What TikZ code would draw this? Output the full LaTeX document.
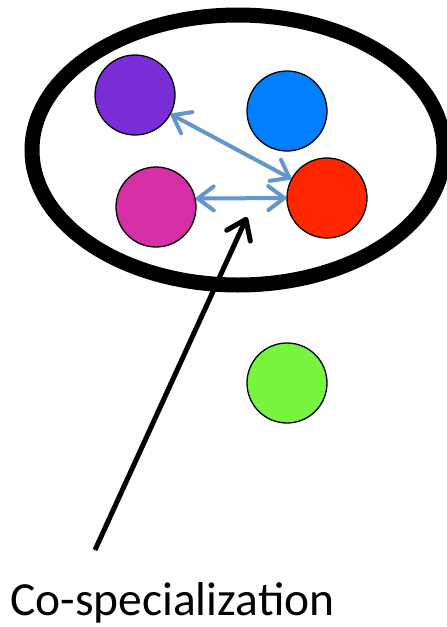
\documentclass[tikz,border=0pt]{standalone}
\usepackage{fontspec}
\setmainfont{Carlito}
\definecolor{cPurple}{HTML}{7A2CD6}
\definecolor{cBlue}{HTML}{0080FF}
\definecolor{cMagenta}{HTML}{D62FA6}
\definecolor{cRed}{HTML}{FF2600}
\definecolor{cGreen}{HTML}{76F43E}
\definecolor{linkBlue}{HTML}{6296CC}
\usetikzlibrary{arrows.meta,shapes.geometric}

\begin{document}
\begin{tikzpicture}[x=1pt, y=-1pt,
  ball/.style={circle, draw=black, line width=1.3pt, minimum size=80pt, inner sep=0pt},
  group/.style={ellipse, draw=black, line width=15pt, minimum width=412pt,
                minimum height=270pt, inner sep=0pt},
  link/.style={{Straight Barb[length=16pt,width=24pt,round]}-{Straight Barb[length=16pt,width=24pt,round]},
               linkBlue, line width=4pt},
  pointer/.style={-{Straight Barb[length=18pt,width=26pt,round]}, black, line width=5pt},
  lbl/.style={font=\fontsize{47.5}{57}\selectfont, inner sep=0pt, anchor=base west}
]
\useasboundingbox (0,0) rectangle (447,627);
\node[group] (grp) at (238,150) {};
\node[ball, fill=cPurple]  (purple)  at (135,95)  {};
\node[ball, fill=cBlue]    (blue)    at (287,111) {};
\node[ball, fill=cMagenta] (magenta) at (156,207) {};
\node[ball, fill=cRed]     (red)     at (327,198) {};
\node[ball, fill=cGreen]   (green)   at (287,383) {};
\draw[link] (purple) -- (red);
\draw[link] (magenta.12) -- (red.west);
\coordinate (tail) at (95,550);
\coordinate (tip)  at (247,217);
\draw[pointer] (tail) -- (tip);
\node[lbl] (name) at (10,615) {Co-specialization};
\end{tikzpicture}
\end{document}
